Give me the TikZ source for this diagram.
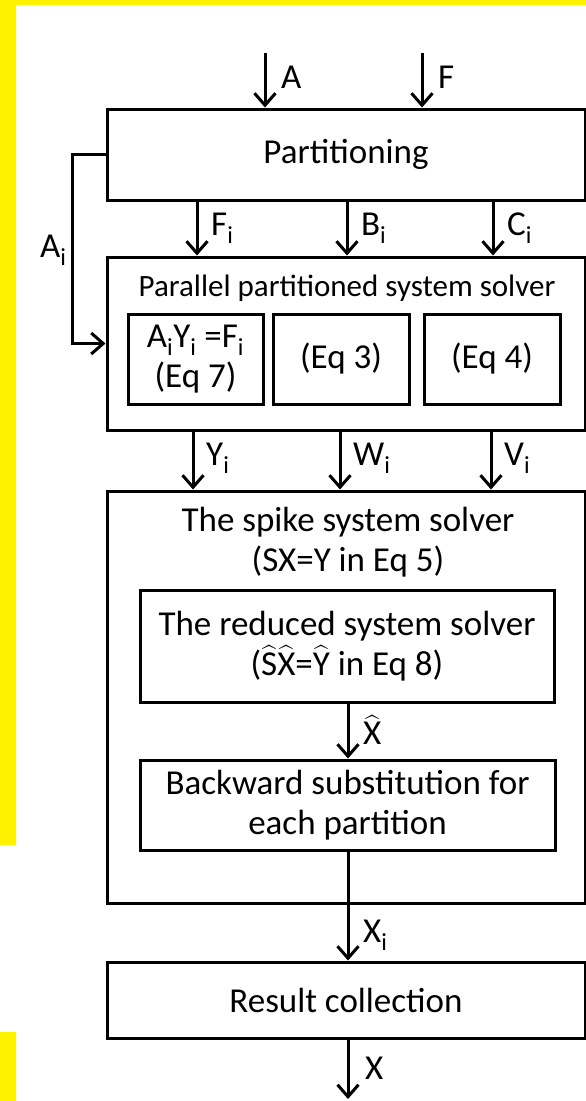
\documentclass[tikz,border=0pt]{standalone}
\usepackage{amsmath}
\usepackage{fontspec}
\setmainfont{Carlito}
\usetikzlibrary{arrows.meta}

\newcommand{\sbi}{\textsubscript{i}}
\newcommand{\hatt}[1]{$\widehat{\text{#1}}$}

\begin{document}
\begin{tikzpicture}[x=1pt,y=-1pt,
  box/.style={draw, line width=3pt, inner sep=0pt},
  arr/.style={line width=3pt, -{Straight Barb[length=12pt,width=21pt,line width=3pt]}},
  big/.style={font=\fontsize{35}{40}\selectfont, align=center},
  lbl/.style={anchor=west, inner sep=0pt, font=\fontsize{35}{40}\selectfont}]
\useasboundingbox (0,0) rectangle (586,1101);
% page background and yellow frame strips
\fill[white] (0,0) rectangle (586,1101);
\fill[yellow] (0,0) rectangle (586,5);
\fill[yellow] (0,0) rectangle (16,845);
\fill[yellow] (0,1032) rectangle (16,1101);

% main blocks
\node[box, big, minimum width=478pt, minimum height=91pt] (part) at (346,154.5) {Partitioning};
\node[box, minimum width=478pt, minimum height=173pt] (par) at (346,343.5) {};
\node[font=\fontsize{31}{36}\selectfont] (partitle) at (347,288) {Parallel partitioned system solver};
\node[box, minimum width=135pt, minimum height=90pt, font=\fontsize{35}{38}\selectfont, align=center] (eq7) at (195.5,359) {A\sbi Y\sbi\ =F\sbi\\[2pt](Eq 7)};
\node[box, big, minimum width=136pt, minimum height=90pt] (eq3) at (341,359) {(Eq 3)};
\node[box, big, minimum width=136pt, minimum height=90pt] (eq4) at (492,359) {(Eq 4)};

\node[box, minimum width=478pt, minimum height=412pt] (spike) at (346,697) {};
\node[big] (spiketitle) at (348,542) {The spike system solver\\(SX=Y in Eq 5)};
\node[box, big, minimum width=414pt, minimum height=112pt] (red) at (347,646) {The reduced system solver\\(\hatt{S}\hatt{X}=\hatt{Y} in Eq 8)};
\node[box, big, minimum width=415pt, minimum height=90pt] (back) at (347.5,805) {Backward substitution for\\each partition};
\node[box, big, minimum width=478pt, minimum height=76pt] (res) at (346,1000) {Result collection};

% inputs
\coordinate (cA) at (265,53);
\coordinate (cF) at (422,53);
\draw[arr] (cA) -- (cA |- part.north);
\draw[arr] (cF) -- (cF |- part.north);
\node[lbl] (lA) at (281,77) {A};
\node[lbl] (lF) at (438,77) {F};

% partitioning outputs
\coordinate (x1) at (197,0);
\coordinate (x2) at (347,0);
\coordinate (x3) at (493,0);
\draw[arr] (part.south -| x1) -- (par.north -| x1);
\draw[arr] (part.south -| x2) -- (par.north -| x2);
\draw[arr] (part.south -| x3) -- (par.north -| x3);
\node[lbl] (lFi) at (211,228) {F\sbi};
\node[lbl] (lBi) at (361,228) {B\sbi};
\node[lbl] (lCi) at (507,228) {C\sbi};

% A_i bypass
\coordinate (ai) at (72,0);
\draw[arr] (part.west) -- (part.west -| ai) -- (par.west -| ai) -- (par.west);
\node[lbl] (lAi) at (40,250) {A\sbi};

% solver outputs
\coordinate (y1) at (193,0);
\coordinate (y2) at (340,0);
\coordinate (y3) at (491,0);
\draw[arr] (par.south -| y1) -- (spike.north -| y1);
\draw[arr] (par.south -| y2) -- (spike.north -| y2);
\draw[arr] (par.south -| y3) -- (spike.north -| y3);
\node[lbl] (lYi) at (206,458) {Y\sbi};
\node[lbl] (lWi) at (353,458) {W\sbi};
\node[lbl] (lVi) at (504,458) {V\sbi};

% inner chain
\coordinate (xc) at (348,0);
\draw[arr] (red.south -| xc) -- (back.north -| xc);
\node[lbl] (lXh) at (363,730) {\hatt{X}};
\draw[arr] (back.south -| xc) -- (res.north -| xc);
\node[lbl] (lXi) at (363,935) {X\sbi};
\coordinate (out) at (348,1099);
\draw[arr] (res.south -| xc) -- (out);
\node[lbl] (lX) at (365,1068) {X};
\end{tikzpicture}
\end{document}
